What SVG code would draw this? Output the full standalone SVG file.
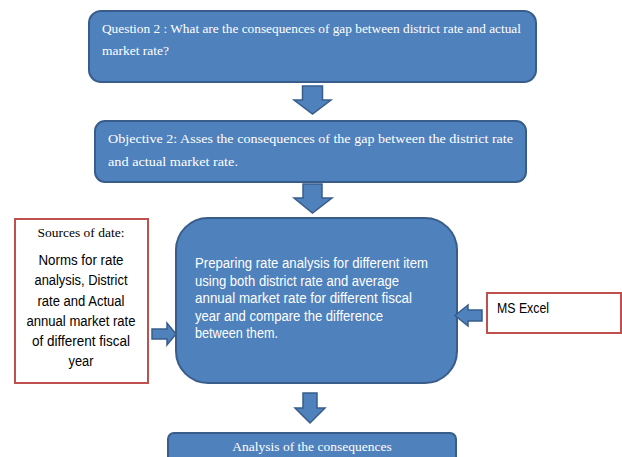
<svg xmlns="http://www.w3.org/2000/svg" width="622" height="457" viewBox="0 0 622 457">
<style>
.blue{fill:#4F81BD;stroke:#385D8A;stroke-width:2}
.red{fill:#FFFFFF;stroke:#C0504D;stroke-width:2}
.arr{fill:#4F81BD;stroke:#385D8A;stroke-width:1.5;stroke-linejoin:miter}
.ser{font-family:"Liberation Serif","Times New Roman",serif;font-size:13.5px}
.san{font-family:"Liberation Sans",Arial,sans-serif;font-size:14px}
.w{fill:#FFFFFF}
.k{fill:#000000}
</style>
<rect width="622" height="457" fill="#FFFFFF"/>
<g id="question">
<rect class="blue" x="89" y="11" width="447" height="71" rx="12"/>
<text class="ser w" x="102" y="33" textLength="419" lengthAdjust="spacingAndGlyphs">Question 2 : What are the consequences of gap between district rate and actual</text>
<text class="ser w" x="102" y="55">market rate?</text>
</g>
<g id="objective">
<rect class="blue" x="95" y="121" width="431" height="61" rx="10"/>
<text class="ser w" x="108" y="143" textLength="405" lengthAdjust="spacingAndGlyphs">Objective 2: Asses the consequences of the gap between the district rate</text>
<text class="ser w" x="108" y="166" textLength="130" lengthAdjust="spacingAndGlyphs">and actual market rate.</text>
</g>
<g id="sources">
<rect class="red" x="15" y="219" width="133" height="164"/>
<text class="ser k" x="81" y="237" text-anchor="middle" font-size="14">Sources of date:</text>
<g class="san k" text-anchor="middle">
<text x="81" y="265" textLength="85" lengthAdjust="spacingAndGlyphs">Norms for rate</text>
<text x="81" y="285" textLength="93" lengthAdjust="spacingAndGlyphs">analysis, District</text>
<text x="81" y="306" textLength="87" lengthAdjust="spacingAndGlyphs">rate and Actual</text>
<text x="81" y="326" textLength="109" lengthAdjust="spacingAndGlyphs">annual market rate</text>
<text x="81" y="346" textLength="98" lengthAdjust="spacingAndGlyphs">of different fiscal</text>
<text x="81" y="366" textLength="25" lengthAdjust="spacingAndGlyphs">year</text>
</g>
</g>
<g id="preparing">
<rect class="blue" x="176" y="218" width="281" height="165" rx="32"/>
<g class="san w">
<text x="195" y="268" textLength="233" lengthAdjust="spacingAndGlyphs">Preparing rate analysis for different item</text>
<text x="195" y="285.5" textLength="204" lengthAdjust="spacingAndGlyphs">using both district rate and average</text>
<text x="195" y="303" textLength="217" lengthAdjust="spacingAndGlyphs">annual market rate for different fiscal</text>
<text x="195" y="320.5" textLength="188" lengthAdjust="spacingAndGlyphs">year and compare the difference</text>
<text x="195" y="338" textLength="83" lengthAdjust="spacingAndGlyphs">between them.</text>
</g>
</g>
<g id="excel">
<rect class="red" x="487" y="293" width="134" height="40"/>
<text class="san k" x="497" y="313" textLength="52" lengthAdjust="spacingAndGlyphs">MS Excel</text>
</g>
<g id="analysis">
<rect class="blue" x="168" y="433" width="288" height="40" rx="6"/>
<text class="ser w" x="312" y="451" text-anchor="middle" font-size="14">Analysis of the consequences</text>
</g>
<g id="connectors">
<path class="arr" d="M302.5,86 H322.5 V100 H331 L312.5,114 L294,100 H302.5 Z"/>
<path class="arr" d="M303,184 H322 V198 H332 L312.5,213 L294,198 H303 Z"/>
<path class="arr" d="M303,393 H317 V408 H325 L310,423 L295,408 H303 Z"/>
<path class="arr" d="M152,329 H167 V323 L176,334 L167,345 V339 H152 Z"/>
<path class="arr" d="M482,310 H468 V305 L455,315.5 L468,326 V321 H482 Z"/>
</g>
</svg>
